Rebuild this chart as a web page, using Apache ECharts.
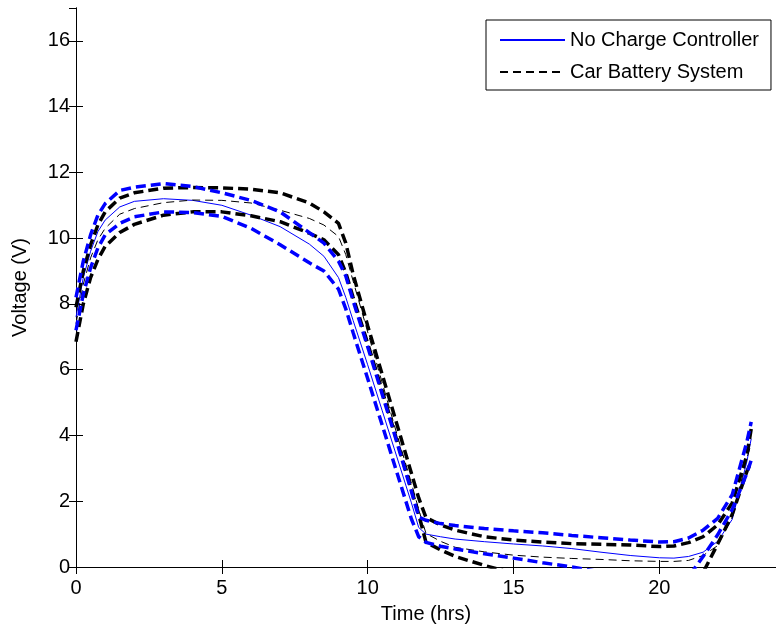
<!DOCTYPE html>
<html lang="en">
<head>
    <meta charset="utf-8">
    <title>Voltage vs Time</title>
    <script src="https://cdn.jsdelivr.net/npm/echarts@6/dist/echarts.min.js"></script>
    <style>
        html, body { margin: 0; padding: 0; background: #fff; }
        #chart { width: 776px; height: 629px; }
    </style>
</head>
<body>
<div id="chart"></div>
<script>
    // time samples (hrs), shared by all series
    var times = [0, 0.25, 0.5, 0.75, 1, 1.5, 2, 3, 4, 5, 6, 7, 8, 8.5, 9, 9.25, 9.5, 10, 10.5, 11,
        11.5, 11.75, 12, 12.5, 13, 14, 15, 16, 17, 18, 19, 20, 20.5, 21, 21.5, 22, 22.5, 23, 23.15];

    // No Charge Controller (blue): mean and bounds
    var blueMean = [7.6, 8.8, 9.6, 10.2, 10.55, 10.95, 11.12, 11.2, 11.15, 11.0, 10.7, 10.35, 9.82, 9.45, 8.8, 8.2, 7.5, 6.15, 4.75, 3.35,
        1.95, 1.2, 1.0, 0.92, 0.85, 0.77, 0.7, 0.64, 0.56, 0.45, 0.35, 0.28, 0.27, 0.32, 0.45, 0.78, 1.45, 3.2, 3.9];
    var blueUpper = [8.2, 9.3, 10.1, 10.7, 11.05, 11.45, 11.55, 11.66, 11.57, 11.38, 11.15, 10.8, 10.17, 9.85, 9.3, 8.85, 8.1, 6.7, 5.25, 3.8,
        2.3, 1.52, 1.42, 1.32, 1.26, 1.17, 1.1, 1.04, 0.96, 0.89, 0.82, 0.76, 0.77, 0.88, 1.12, 1.48, 2.2, 3.8, 4.41];
    var blueLower = [7.2, 8.3, 9.1, 9.7, 10.1, 10.45, 10.65, 10.8, 10.78, 10.66, 10.3, 9.8, 9.25, 9.0, 8.45, 7.85, 7.13, 5.73, 4.31, 2.88,
        1.46, 0.92, 0.75, 0.63, 0.55, 0.4, 0.27, 0.13, 0.0, -0.15, -0.25, -0.3, -0.35, -0.3, 0.32, 0.98, 1.75, 2.85, 3.25];

    // Car Battery System (black): mean and bounds
    var blackMean = [7.4, 8.6, 9.4, 9.95, 10.3, 10.73, 10.9, 11.08, 11.16, 11.15, 11.07, 10.85, 10.6, 10.4, 10.05, 9.5, 8.7, 7.15, 5.6, 4.05,
        2.55, 1.75, 1.02, 0.78, 0.6, 0.46, 0.36, 0.3, 0.26, 0.23, 0.19, 0.17, 0.17, 0.2, 0.35, 0.65, 1.5, 3.3, 3.75];
    var blackUpper = [7.9, 9.0, 9.8, 10.4, 10.8, 11.22, 11.38, 11.52, 11.54, 11.53, 11.49, 11.38, 11.07, 10.8, 10.45, 9.85, 8.91, 7.34, 5.85, 4.35,
        2.85, 2.1, 1.5, 1.28, 1.12, 0.92, 0.82, 0.76, 0.71, 0.69, 0.67, 0.62, 0.64, 0.74, 0.92, 1.28, 1.95, 3.4, 4.2];
    var blackLower = [6.85, 8.0, 8.8, 9.35, 9.75, 10.17, 10.42, 10.7, 10.8, 10.8, 10.68, 10.5, 10.15, 9.95, 9.5, 8.95, 8.2, 6.8, 5.35, 3.85,
        2.35, 1.6, 0.75, 0.52, 0.32, 0.05, -0.2, -0.4, -0.5, -0.6, -0.6, -0.6, -0.6, -0.55, -0.17, 0.7, 1.6, 2.9, 3.2];

    var legendNames = ['No Charge Controller', 'Car Battery System'];

    function pairs(values) {
        return times.map(function (t, i) { return [t, values[i]]; });
    }

    function lineSeries(name, values, color, width, dash, z) {
        return {
            name: name,
            type: 'line',
            data: pairs(values),
            showSymbol: false,
            symbol: 'none',
            symbolSize: 0,
            z: z,
            lineStyle: { color: color, width: width, type: dash },
            itemStyle: { color: color }
        };
    }

    var font = 'Liberation Sans, Arial, Helvetica, sans-serif';
    var fs = 20;

    function axisLine() {
        return { show: true, lineStyle: { color: '#000', width: 1 } };
    }
    // x ticks: inside works as expected
    function xTick() {
        return { show: true, inside: true, length: 7, lineStyle: { color: '#000', width: 1 } };
    }
    // y ticks: drawn pointing into the plot
    function yTick() {
        return { show: true, inside: false, length: -7, lineStyle: { color: '#000', width: 1 } };
    }

    var myChart = echarts.init(document.getElementById('chart'));
    var option = {
        animation: false,
        backgroundColor: '#fff',
        textStyle: { fontFamily: font },
        grid: { left: 76, top: 8, right: -6, bottom: 60 },
        legend: {
            data: legendNames,
            orient: 'vertical',
            left: 486,
            top: 20,
            backgroundColor: '#fff',
            borderColor: '#000',
            borderWidth: 1,
            borderRadius: 0,
            padding: [10, 12, 8, 13],
            itemWidth: 65,
            itemHeight: 14,
            itemGap: 12,
            itemStyle: { opacity: 0 },
            textStyle: { fontSize: fs, color: '#000', fontFamily: font }
        },
        xAxis: [{
            type: 'value',
            min: 0, max: 24, interval: 5,
            position: 'bottom',
            axisLine: axisLine(),
            axisTick: xTick(),
            splitLine: { show: false },
            axisLabel: { color: '#000', fontSize: fs, margin: 11, showMaxLabel: false, fontFamily: font },
            name: 'Time (hrs)',
            nameLocation: 'middle',
            nameGap: 37,
            nameTextStyle: { color: '#000', fontSize: fs, fontFamily: font }
        }, {
            type: 'value',
            min: 0, max: 24, interval: 5,
            position: 'top',
            axisLine: axisLine(),
            axisTick: xTick(),
            splitLine: { show: false },
            axisLabel: { show: false }
        }],
        yAxis: [{
            type: 'value',
            min: 0, max: 17, interval: 2,
            position: 'left',
            axisLine: axisLine(),
            axisTick: yTick(),
            splitLine: { show: false },
            axisLabel: { color: '#000', fontSize: fs, margin: 6, showMaxLabel: false, fontFamily: font },
            name: 'Voltage (V)',
            nameLocation: 'middle',
            nameRotate: 90,
            nameGap: 46,
            nameTextStyle: { color: '#000', fontSize: fs, fontFamily: font }
        }, {
            type: 'value',
            min: 0, max: 17, interval: 2,
            position: 'right',
            axisLine: axisLine(),
            axisTick: yTick(),
            splitLine: { show: false },
            axisLabel: { show: false }
        }],
        series: [
            lineSeries('No Charge Controller', blueMean, '#0000ff', 1, 'solid', 3),
            lineSeries('Car Battery System', blackMean, '#000000', 1, [8, 5], 3),
            lineSeries('Car Battery Upper', blackUpper, '#000000', 3.5, [10, 5], 4),
            lineSeries('Car Battery Lower', blackLower, '#000000', 3.5, [10, 5], 4),
            lineSeries('No Charge Upper', blueUpper, '#0000ff', 3.5, [10, 5], 5),
            lineSeries('No Charge Lower', blueLower, '#0000ff', 3.5, [10, 5], 5)
        ]
    };
    myChart.setOption(option);
</script>
</body>
</html>
